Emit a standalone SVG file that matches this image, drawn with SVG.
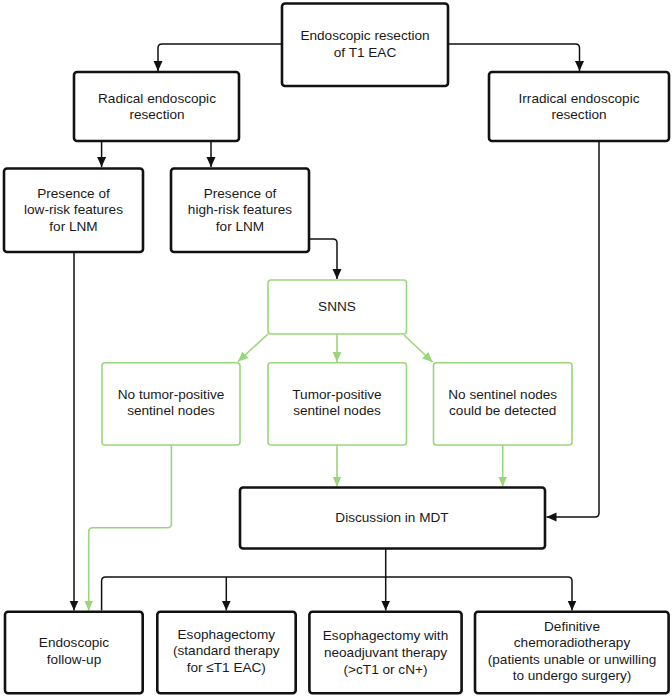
<svg xmlns="http://www.w3.org/2000/svg" width="672" height="699" viewBox="0 0 672 699">
<defs>
<marker id="ab" markerUnits="userSpaceOnUse" markerWidth="10" markerHeight="10" refX="10" refY="4.5" orient="auto"><path d="M0,0 L10,4.5 L0,9 z" fill="#111"/></marker>
<marker id="ag" markerUnits="userSpaceOnUse" markerWidth="10" markerHeight="10" refX="10" refY="4.5" orient="auto"><path d="M0,0 L10,4.5 L0,9 z" fill="#9ad67c"/></marker>
<style>
.nb{fill:#fff;stroke:#111;stroke-width:2.6}
.ng{fill:#fff;stroke:#9ad67c;stroke-width:1.6}
text{font-family:"Liberation Sans",Arial,sans-serif;font-size:13.6px;fill:#1a1a1a;text-anchor:middle}
.cb{fill:none;stroke:#111;stroke-width:1.5}
.cg{fill:none;stroke:#9ad67c;stroke-width:1.6}
</style>
</defs>
<rect width="672" height="699" fill="#fff"/>
<g id="connectors">
<path class="cb" d="M282,44 H162 Q158,44 158,48 V71" marker-end="url(#ab)"/>
<path class="cb" d="M448,44 H575.5 Q579.5,44 579.5,48 V71" marker-end="url(#ab)"/>
<path class="cb" d="M101.6,141 V167" marker-end="url(#ab)"/>
<path class="cb" d="M211,141 V167" marker-end="url(#ab)"/>
<path class="cb" d="M309,239 H333 Q337,239 337,243 V279" marker-end="url(#ab)"/>
<path class="cg" d="M268,334 L238,361.5" marker-end="url(#ag)"/>
<path class="cg" d="M337,334 V362" marker-end="url(#ag)"/>
<path class="cg" d="M404,335 L432.5,362" marker-end="url(#ag)"/>
<path class="cg" d="M171.4,445 V523.7 Q171.4,527.7 167.4,527.7 H92.7 Q88.7,527.7 88.7,531.7 V610.5" marker-end="url(#ag)"/>
<path class="cg" d="M337,445 V486.5" marker-end="url(#ag)"/>
<path class="cg" d="M502.7,445 V486.5" marker-end="url(#ag)"/>
<path class="cb" d="M74,252 V610.5" marker-end="url(#ab)"/>
<path class="cb" d="M599,141 V513 Q599,517 595,517 H546.5" marker-end="url(#ab)"/>
<path class="cb" d="M385.7,548.5 V610.5" marker-end="url(#ab)"/>
<path class="cb" d="M101.6,610.5 V581 Q101.6,577 105.6,577 H568 Q572,577 572,581 V610.5" marker-end="url(#ab)"/>
<path class="cb" d="M226.3,577 V610.5" marker-end="url(#ab)"/>
</g>
<g id="n_top"><rect class="nb" x="282" y="3.5" width="166" height="82.5" rx="3"/><text x="365" y="39.5">Endoscopic resection</text><text x="365" y="56.5">of T1 EAC</text></g>
<g id="n_radical"><rect class="nb" x="74" y="72" width="165" height="69" rx="3"/><text x="157" y="102.5">Radical endoscopic</text><text x="157" y="119">resection</text></g>
<g id="n_irradical"><rect class="nb" x="489" y="72" width="180" height="69" rx="3"/><text x="579" y="102.5">Irradical endoscopic</text><text x="579" y="119">resection</text></g>
<g id="n_low"><rect class="nb" x="4" y="168.5" width="139" height="83.5" rx="3"/><text x="73.5" y="197.5">Presence of</text><text x="73.5" y="214">low-risk features</text><text x="73.5" y="230.5">for LNM</text></g>
<g id="n_high"><rect class="nb" x="171" y="168.5" width="138" height="83.5" rx="3"/><text x="240" y="197.5">Presence of</text><text x="240" y="214">high-risk features</text><text x="240" y="230.5">for LNM</text></g>
<g id="n_snns"><rect class="ng" x="268" y="280" width="138.5" height="54" rx="3"/><text x="337" y="311">SNNS</text></g>
<g id="n_noPos"><rect class="ng" x="102" y="362.7" width="138" height="82.3" rx="3"/><text x="171" y="398.5">No tumor-positive</text><text x="171" y="415">sentinel nodes</text></g>
<g id="n_pos"><rect class="ng" x="268" y="362.7" width="138.5" height="82.3" rx="3"/><text x="337" y="398.5">Tumor-positive</text><text x="337" y="415">sentinel nodes</text></g>
<g id="n_none"><rect class="ng" x="433.5" y="362.7" width="138.5" height="82.3" rx="3"/><text x="502.7" y="398.5">No sentinel nodes</text><text x="502.7" y="415">could be detected</text></g>
<g id="n_mdt"><rect class="nb" x="240" y="487.5" width="305" height="61" rx="3"/><text x="392" y="522">Discussion in MDT</text></g>
<g id="n_follow"><rect class="nb" x="5" y="611.7" width="137.7" height="81.6" rx="3"/><text x="74" y="647">Endoscopic</text><text x="74" y="663.5">follow-up</text></g>
<g id="n_esoph"><rect class="nb" x="157.3" y="611.7" width="138.4" height="81.6" rx="3"/><text x="226.3" y="638.5">Esophagectomy</text><text x="226.3" y="655">(standard therapy</text><text x="226.3" y="671.5">for ≤T1 EAC)</text></g>
<g id="n_neo"><rect class="nb" x="309.4" y="611.7" width="152.2" height="81.6" rx="3"/><text x="385.5" y="639.5">Esophagectomy with</text><text x="385.5" y="656.5">neoadjuvant therapy</text><text x="385.5" y="674">(&gt;cT1 or cN+)</text></g>
<g id="n_crt"><rect class="nb" x="475" y="611.7" width="193.6" height="81.6" rx="3"/><text x="572" y="630.5">Definitive</text><text x="572" y="647">chemoradiotherapy</text><text x="572" y="663.5">(patients unable or unwilling</text><text x="572" y="680">to undergo surgery)</text></g>
</svg>
